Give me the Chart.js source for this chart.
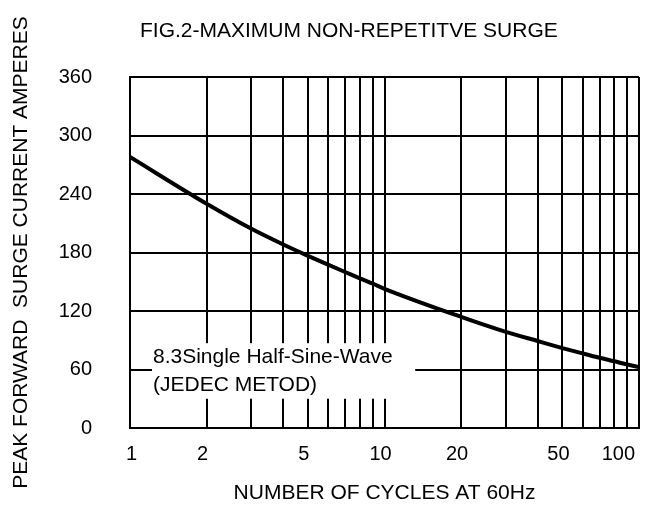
<!DOCTYPE html>
<html>
<head>
<meta charset="utf-8">
<script src="https://cdn.jsdelivr.net/npm/chart.js@4.4.1/dist/chart.umd.min.js"></script>
<style>
  html, body { margin: 0; padding: 0; background: #fff; }
  #wrap { width: 653px; height: 511px; }
</style>
</head>
<body>
<div id="wrap"><canvas id="grafico"></canvas></div>
<script>
// valores (eixo x logaritmico)
const ciclos = [1, 2, 3, 4, 5, 6, 7, 8, 9, 10, 20, 30, 40, 50, 60, 70, 80, 90, 100];
const correnteSurto = [278, 230, 204.3, 188.2, 176.6, 167.5, 160, 153.5, 148, 142.8, 114, 98.6, 89.2, 82, 76.5, 72, 68.4, 65.1, 62.4];
const ciclosGrade = [1, 2, 3, 4, 5, 6, 7, 8, 9, 10, 20, 30, 40, 50, 60, 70, 80, 90, 100];
const ciclosRotulos = [1, 2, 5, 10, 20, 50, 100];
const correnteTicks = [0, 60, 120, 180, 240, 300, 360];
const notaLinhas = ['8.3Single Half-Sine-Wave', '(JEDEC METOD)'];

const FONTE = '"Liberation Sans", Arial, sans-serif';

// caixa branca com o texto da nota, em coordenadas dos dados
const notaPlugin = {
  id: 'nota',
  beforeDatasetsDraw(chart, args, opts) {
    const { ctx, scales: { x, y } } = chart;
    const l = x.getPixelForValue(opts.x0), r = x.getPixelForValue(opts.x1);
    const t = y.getPixelForValue(opts.y1), b = y.getPixelForValue(opts.y0);
    ctx.save();
    ctx.fillStyle = '#fff';
    ctx.fillRect(l, t, r - l, b - t);
    ctx.fillStyle = '#000';
    ctx.font = '21px ' + FONTE;
    ctx.textBaseline = 'middle';
    const h = (b - t) / opts.linhas.length;
    opts.linhas.forEach((txt, i) => ctx.fillText(txt, l + 1, t + h * (i + 0.5)));
    ctx.restore();
  }
};

// titulo da figura
const tituloPlugin = {
  id: 'tituloFig',
  afterDraw(chart, args, opts) {
    const { ctx, chartArea } = chart;
    ctx.save();
    ctx.fillStyle = '#000';
    ctx.font = '21px ' + FONTE;
    ctx.textAlign = 'center';
    ctx.textBaseline = 'middle';
    ctx.fillText(opts.text, chartArea.left + chartArea.width * 0.43, 31);
    ctx.restore();
  }
};

new Chart(document.getElementById('grafico'), {
  type: 'line',
  data: {
    datasets: [{
      data: ciclos.map((c, i) => ({ x: c, y: correnteSurto[i] })),
      borderColor: '#000',
      borderWidth: 4,
      pointRadius: 0,
      cubicInterpolationMode: 'monotone',
      fill: false
    }]
  },
  options: {
    responsive: true,
    maintainAspectRatio: false,
    animation: false,
    layout: { padding: { top: 77, right: 9, left: 0, bottom: 0 } },
    plugins: {
      legend: { display: false },
      tooltip: { enabled: false },
      nota: { x0: 1.22, x1: 13.2, y0: 30, y1: 87, linhas: notaLinhas },
      tituloFig: { text: 'FIG.2-MAXIMUM NON-REPETITVE SURGE' }
    },
    scales: {
      x: {
        type: 'logarithmic',
        min: 1,
        max: 100,
        afterBuildTicks: (s) => { s.ticks = ciclosGrade.map(v => ({ value: v })); },
        afterFit: (s) => { s.height = 83; },
        grid: { color: '#000', lineWidth: 2, drawTicks: false },
        border: { color: '#000', width: 2 },
        ticks: {
          autoSkip: false,
          maxRotation: 0,
          align: 'inner',
          labelOffset: -4,
          padding: 14,
          color: '#000',
          font: { family: FONTE, size: 20 },
          callback: (v) => ciclosRotulos.includes(v) ? String(v) : ''
        },
        title: {
          display: true,
          text: 'NUMBER OF CYCLES AT 60Hz',
          color: '#000',
          font: { family: FONTE, size: 21 },
          padding: { top: 0, bottom: 5 }
        }
      },
      y: {
        min: 0,
        max: 360,
        afterBuildTicks: (s) => { s.ticks = correnteTicks.map(v => ({ value: v })); },
        afterFit: (s) => { s.width = 130; },
        grid: { color: '#000', lineWidth: 2, drawTicks: false },
        border: { color: '#000', width: 2 },
        ticks: {
          padding: 38,
          color: '#000',
          font: { family: FONTE, size: 20 }
        },
        title: {
          display: true,
          text: 'PEAK FORWARD  SURGE CURRENT AMPERES',
          color: '#000',
          font: { family: FONTE, size: 21 },
          padding: { top: 9, bottom: 0 }
        }
      }
    }
  },
  plugins: [notaPlugin, tituloPlugin]
});
</script>
</body>
</html>
